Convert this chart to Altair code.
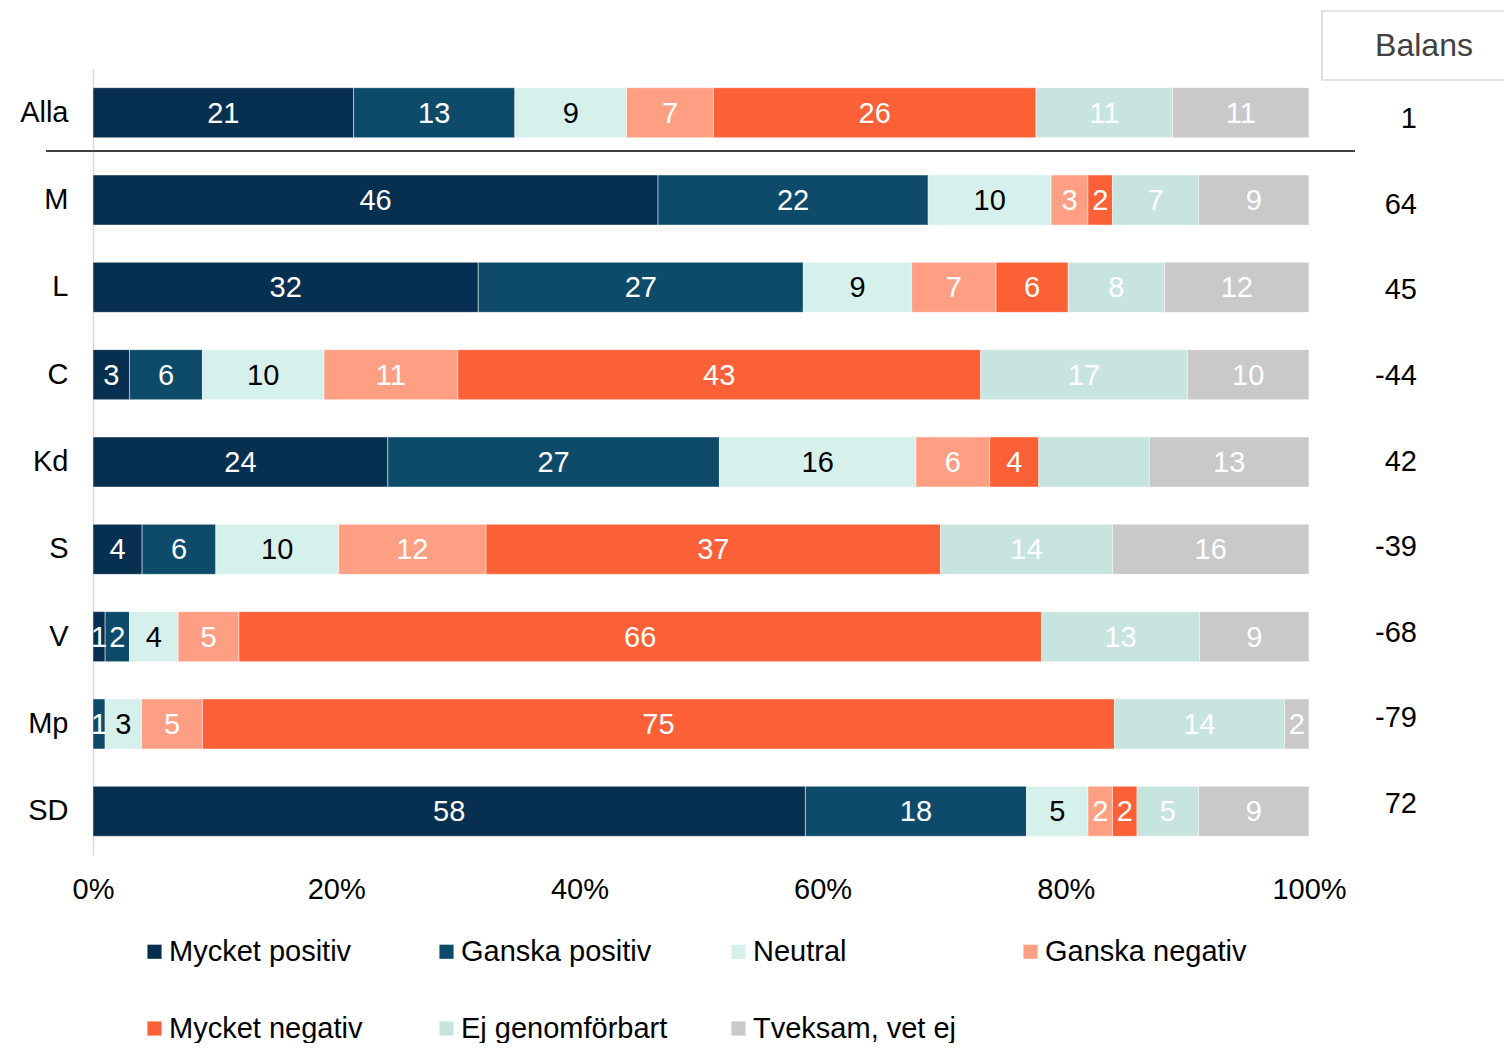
import altair as alt
import pandas as pd

categories = ["Alla", "M", "L", "C", "Kd", "S", "V", "Mp", "SD"]
series = ["Mycket positiv", "Ganska positiv", "Neutral", "Ganska negativ",
          "Mycket negativ", "Ej genomförbart", "Tveksam, vet ej"]
colors = ["#072f4f", "#0e4b6b", "#d6f1ec", "#fe9f84", "#fc6037", "#c8e4df", "#c9c9c9"]

mycket_positiv = [21, 46, 32, 3, 24, 4, 1, 0, 58]
ganska_positiv = [13, 22, 27, 6, 27, 6, 2, 1, 18]
neutral = [9, 10, 9, 10, 16, 10, 4, 3, 5]
ganska_negativ = [7, 3, 7, 11, 6, 12, 5, 5, 2]
mycket_negativ = [26, 2, 6, 43, 4, 37, 66, 75, 2]
ej_genomforbart = [11, 7, 8, 17, 9, 14, 13, 14, 5]
tveksam = [11, 9, 12, 10, 13, 16, 9, 2, 9]
balans = [1, 64, 45, -44, 42, -39, -68, -79, 72]
hidden_labels = [("Kd", "Ej genomförbart")]
x_ticks = [0, 0.2, 0.4, 0.6, 0.8, 1.0]

values = [mycket_positiv, ganska_positiv, neutral, ganska_negativ,
          mycket_negativ, ej_genomforbart, tveksam]

rows = []
for si, (s, vals) in enumerate(zip(series, values)):
    for ci, c in enumerate(categories):
        v = vals[ci]
        lab = "" if (v == 0 or (c, s) in hidden_labels) else str(v)
        rows.append({"cat": c, "series": s, "order": si, "value": v, "label": lab})
df = pd.DataFrame(rows)
bal_df = pd.DataFrame({"bcat": categories, "balans": [str(b) for b in balans]})

FONT = "Liberation Sans"
FS = 29

y_enc = alt.Y("cat:N", sort=categories,
              scale=alt.Scale(paddingInner=0.427, paddingOuter=0.214),
              axis=alt.Axis(title=None, ticks=False, labelFontSize=FS, labelColor="#000000",
                            labelFont=FONT, labelPadding=25, domainColor="#d9d9d9",
                            domainWidth=1.5, labelAlign="right"))

base = alt.Chart(df).transform_stack(
    stack="value", groupby=["cat"], as_=["x0", "x1"], offset="normalize",
    sort=[alt.SortField("order", order="ascending")]
).transform_calculate(mid="(datum.x0 + datum.x1) / 2")

bars = base.mark_bar(stroke="white", strokeWidth=0.8, strokeOpacity=0.6).encode(
    x=alt.X("x0:Q", scale=alt.Scale(domain=[0, 1], nice=False, zero=True),
            axis=alt.Axis(title=None, format=".0%", values=x_ticks, ticks=False, domain=False,
                          grid=False, labelFontSize=FS, labelFont=FONT, labelColor="#000000",
                          labelPadding=20, labelFlush=False)),
    x2="x1:Q",
    y=y_enc,
    color=alt.Color("series:N", sort=series,
                    scale=alt.Scale(domain=series, range=colors),
                    legend=alt.Legend(title=None, orient="none", legendX=47, legendY=868,
                                      columns=4, direction="horizontal",
                                      symbolType="square", symbolSize=200,
                                      symbolStrokeWidth=0, labelFontSize=FS, labelFont=FONT,
                                      labelColor="#000000", gridAlign="all",
                                      columnPadding=56, rowPadding=47, labelOffset=0,
                                      labelLimit=400, symbolOffset=0)),
)

texts = base.mark_text(fontSize=FS, font=FONT, baseline="middle", dy=1).encode(
    x="mid:Q",
    y=alt.Y("cat:N", sort=categories),
    text="label:N",
    color=alt.condition(alt.datum.series == "Neutral", alt.value("#000000"), alt.value("#ffffff")),
)

bal = alt.Chart(bal_df).mark_text(fontSize=FS, font=FONT, align="right", baseline="middle",
                                  color="#000000", dy=1).encode(
    x=alt.value(1324),
    y=alt.Y("bcat:N", sort=categories, axis=None,
            scale=alt.Scale(range=[6.2, 776.8], paddingInner=0, paddingOuter=0)),
    text="balans:N",
)

box = alt.Chart(pd.DataFrame({"a": [0]})).mark_rect(
    fill="white", stroke="#c8c8c8", strokeWidth=1.2).encode(
    x=alt.value(1229), x2=alt.value(1440), y=alt.value(-58), y2=alt.value(11))

box_text = alt.Chart(pd.DataFrame({"t": ["Balans"]})).mark_text(
    fontSize=32, font=FONT, color="#404040", align="center", baseline="middle").encode(
    x=alt.value(1331), y=alt.value(-23), text="t:N")

sep = alt.Chart(pd.DataFrame({"a": [0]})).mark_rule(color="#404040", strokeWidth=1.8).encode(
    x=alt.value(-47), x2=alt.value(1262), y=alt.value(82))

main = alt.layer(bars, texts, sep, box, box_text)

chart = alt.layer(main, bal).resolve_scale(
    y="independent"
).properties(
    width=1216, height=786,
    autosize=alt.AutoSizeParams(type="none"),
    padding={"left": 85, "top": 61, "right": 195, "bottom": 188},
).configure_view(stroke=None)

chart.save("out.html", embed_options={"renderer": "svg", "actions": False})
